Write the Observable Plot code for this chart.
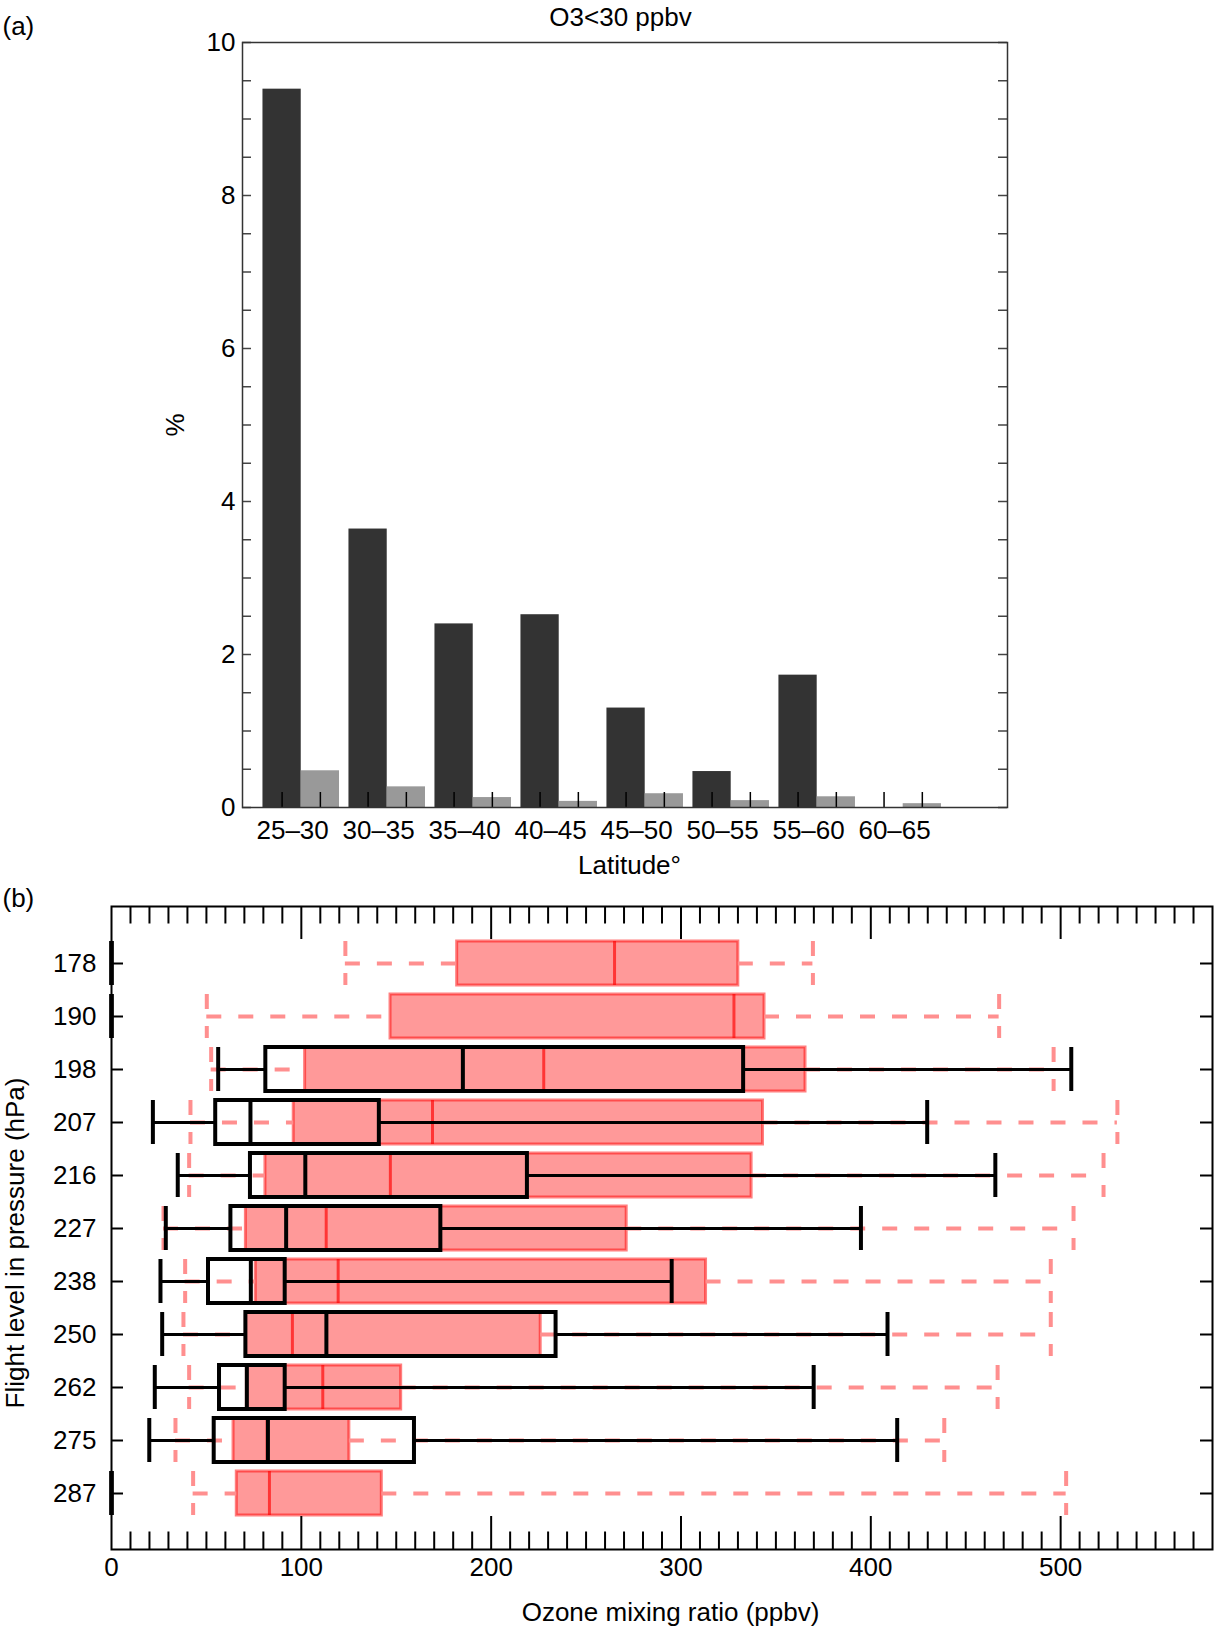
<!DOCTYPE html>
<html><head><meta charset="utf-8">
<script src="https://cdn.jsdelivr.net/npm/d3@7"></script>
<script src="https://cdn.jsdelivr.net/npm/@observablehq/plot@0.6"></script>
<style>
body{margin:0;background:#fff;}
#wrap{position:relative;width:1215px;height:1632px;background:#fff;}
#wrap svg{position:absolute;left:0;}
</style></head><body><div id="wrap"></div>
<script>
// ---------- Panel (a) data ----------
const latBins = ["25–30","30–35","35–40","40–45","45–50","50–55","55–60","60–65"];
const pctDark = [9.39, 3.64, 2.40, 2.52, 1.30, 0.47, 1.73, 0];
const pctGray = [0.48, 0.27, 0.13, 0.08, 0.18, 0.09, 0.14, 0.05];
const pctTicks = [0, 2, 4, 6, 8, 10];
const titleA = "O3<30 ppbv";

// ---------- Panel (b) data ----------
const levels = ["178","190","198","207","216","227","238","250","262","275","287"];
// red (filled) boxes
const redLo  = [123.2, 50.2, 52.5, 41.6, 40.9, 27.4, 38.8, 37.9, 40.9, 33.7, 43.0];
const redQ1  = [182.1,147.0,102.0, 96.0, 81.1, 70.8, 76.0, 70.8, 71.3, 64.3, 66.0];
const redMed = [265.0,327.9,227.7,169.1,146.9,113.1,119.4, 95.3,111.3, 82.0, 83.2];
const redQ3  = [330.2,344.0,365.6,343.2,337.2,271.4,313.2,226.1,152.6,125.3,142.4];
const redHi  = [369.5,467.6,496.3,529.9,522.6,506.8,494.8,494.8,466.8,438.7,502.9];
// black (open) boxes
const blkLo  = [0, 0, 56.2, 21.8, 34.9, 28.6, 25.8, 26.7, 22.8, 19.9, 0];
const blkQ1  = [0, 0, 81.3, 54.9, 73.2, 62.9, 51.1, 70.8, 56.9, 54.1, 0];
const blkMed = [0, 0,185.1, 73.2,102.1, 92.0, 73.4,113.2, 71.3, 82.4, 0];
const blkQ3  = [0, 0,333.0,141.1,219.1,173.5, 91.5,234.2, 91.5,159.6, 0];
const blkHi  = [0, 0,505.6,429.7,465.6,394.8,295.1,408.8,369.9,413.9, 0];
const ozoneTicks = [0, 100, 200, 300, 400, 500];

const FONT = "'Liberation Sans', Arial, Helvetica, sans-serif";
const wrap = document.getElementById("wrap");
const mid = {textAnchor: "middle", lineAnchor: "middle"};

// ================= Panel (a) =================
{
  const W = 1215, H = 890, mT = 42, mL = 242, mR = 208, mB = 83;
  const fW = W - mL - mR, fH = H - mT - mB;
  const BW = 0.445;
  const bars = latBins.map((b, i) => ({bin: b, pos: i + 1, dark: pctDark[i], gray: pctGray[i]}));
  const xTickPos = bars.flatMap(d => [d.pos - BW / 2, d.pos + BW / 2]);
  const yMinor = d3.range(0, 10.001, 0.5);

  const svgA = Plot.plot({
    width: W, height: H,
    marginTop: mT, marginLeft: mL, marginRight: mR, marginBottom: mB,
    x: {domain: [0.317, 9.213], axis: null},
    y: {domain: [0, 10]},
    style: {fontFamily: FONT, fontSize: "26px", color: "black", background: "transparent"},
    marks: [
      Plot.rect(bars, {x1: d => d.pos - BW, x2: d => d.pos, y1: 0, y2: "dark", fill: "#333333"}),
      Plot.rect(bars, {x1: d => d.pos, x2: d => d.pos + BW, y1: 0, y2: "gray", fill: "#999999"}),
      Plot.ruleX(xTickPos, {x: d => d, insetTop: fH - 15, stroke: "black", strokeWidth: 1.5}),
      Plot.ruleY(yMinor, {y: d => d, insetRight: fW - 9, stroke: "#444", strokeWidth: 1.5}),
      Plot.ruleY(yMinor, {y: d => d, insetLeft: fW - 9, stroke: "#444", strokeWidth: 1.5}),
      Plot.frame({stroke: "#333", strokeWidth: 1.5}),
      Plot.axisY(pctTicks, {anchor: "left", tickSize: 0, tickPadding: 7, label: null, tickFormat: d => String(d)}),
      Plot.text(bars, {x: d => d.pos - 0.1, text: "bin", frameAnchor: "bottom", dy: 23, ...mid}),
      Plot.text(["Latitude°"], {text: d => d, frameAnchor: "bottom", dy: 58, dx: 4.5, ...mid}),
      Plot.text(["%"], {text: d => d, frameAnchor: "left", dx: -67, rotate: -90, ...mid}),
      Plot.text([titleA], {text: d => d, frameAnchor: "top", dy: -25, dx: -4.5, ...mid}),
      Plot.text(["(a)"], {text: d => d, frameAnchor: "top-left", dx: -240, dy: -16, textAnchor: "start", lineAnchor: "middle"})
    ]
  });
  svgA.style.top = "0px";
  wrap.appendChild(svgA);
}

// ================= Panel (b) =================
{
  const W = 1215, H = 752, mT = 26, mL = 111, mR = 3, mB = 83;
  const fW = W - mL - mR, fH = H - mT - mB;
  const red = levels.map((l, i) => ({lev: l, lo: redLo[i], q1: redQ1[i], med: redMed[i], q3: redQ3[i], hi: redHi[i]}));
  const blk = levels.map((l, i) => ({lev: l, lo: blkLo[i], q1: blkQ1[i], med: blkMed[i], q3: blkQ3[i], hi: blkHi[i]}));
  const minor = d3.range(10, 580, 10).filter(v => v % 100 !== 0);
  const major = d3.range(100, 580, 100);
  const dashed = {stroke: "#ff8f8f", strokeWidth: 4, strokeDasharray: "15,17"};

  const svgB = Plot.plot({
    width: W, height: H,
    marginTop: mT, marginLeft: mL, marginRight: mR, marginBottom: mB,
    x: {domain: [0, 580]},
    y: {type: "band", domain: levels, paddingInner: 0.17, paddingOuter: 0.585},
    style: {fontFamily: FONT, fontSize: "26px", color: "black", background: "transparent"},
    marks: [
      // red boxes
      Plot.barX(red, {x1: "q1", x2: "q3", y: "lev", fill: "red", fillOpacity: 0.4, stroke: "red", strokeOpacity: 0.5, strokeWidth: 3}),
      Plot.tickX(red, {x: "med", y: "lev", stroke: "red", strokeOpacity: 0.65, strokeWidth: 3}),
      Plot.ruleY(red, {y: "lev", x1: "lo", x2: "q1", ...dashed}),
      Plot.ruleY(red, {y: "lev", x1: "q3", x2: "hi", ...dashed}),
      Plot.tickX(red, {x: "lo", y: "lev", ...dashed}),
      Plot.tickX(red, {x: "hi", y: "lev", ...dashed}),
      // black boxes
      Plot.ruleY(blk, {y: "lev", x1: "lo", x2: "q1", stroke: "black", strokeWidth: 3}),
      Plot.ruleY(blk, {y: "lev", x1: "q3", x2: "hi", stroke: "black", strokeWidth: 3}),
      Plot.barX(blk, {x1: "q1", x2: "q3", y: "lev", fill: "none", stroke: "black", strokeWidth: 4}),
      Plot.tickX(blk, {x: "med", y: "lev", stroke: "black", strokeWidth: 4}),
      Plot.tickX(blk, {x: "lo", y: "lev", stroke: "black", strokeWidth: 4}),
      Plot.tickX(blk, {x: "hi", y: "lev", stroke: "black", strokeWidth: 4}),
      // axis ticks
      Plot.ruleX(minor, {x: d => d, insetBottom: fH - 17.5, stroke: "black", strokeWidth: 2}),
      Plot.ruleX(major, {x: d => d, insetBottom: fH - 33, stroke: "black", strokeWidth: 2}),
      Plot.ruleX(minor, {x: d => d, insetTop: fH - 17.5, stroke: "black", strokeWidth: 2}),
      Plot.ruleX(major, {x: d => d, insetTop: fH - 33, stroke: "black", strokeWidth: 2}),
      Plot.ruleY(levels, {y: d => d, insetRight: fW - 12, stroke: "black", strokeWidth: 2}),
      Plot.ruleY(levels, {y: d => d, insetLeft: fW - 12, stroke: "black", strokeWidth: 2}),
      Plot.frame({stroke: "black", strokeWidth: 2}),
      Plot.axisX(ozoneTicks, {anchor: "bottom", tickSize: 0, tickPadding: 8, label: null}),
      Plot.axisY({anchor: "left", tickSize: 0, tickPadding: 15, label: null}),
      Plot.text(["Ozone mixing ratio (ppbv)"], {text: d => d, frameAnchor: "bottom", dy: 63, dx: 8.5, ...mid}),
      Plot.text(["Flight level in pressure (hPa)"], {text: d => d, frameAnchor: "left", dx: -96, dy: 15, rotate: -90, ...mid}),
      Plot.text(["(b)"], {text: d => d, frameAnchor: "top-left", dx: -109, dy: -8, textAnchor: "start", lineAnchor: "middle"})
    ]
  });
  svgB.style.top = "880px";
  wrap.appendChild(svgB);
}
</script>
</body></html>
